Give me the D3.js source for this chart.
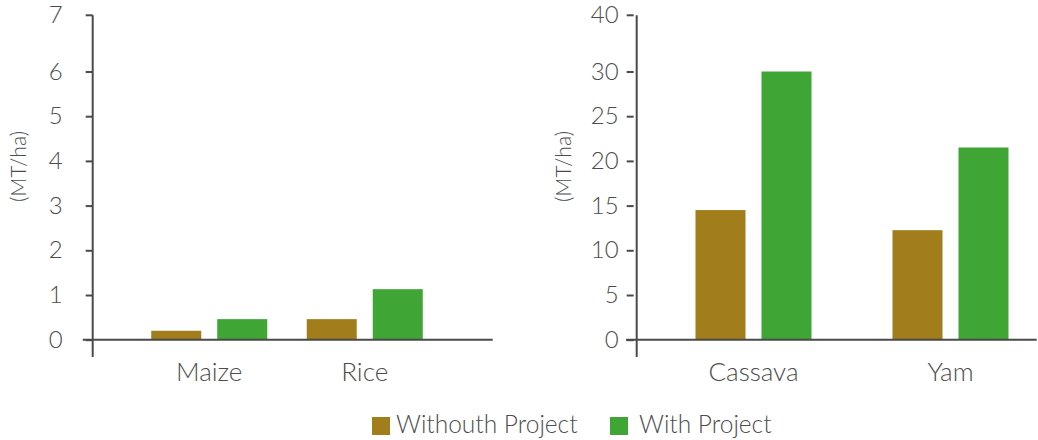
<!DOCTYPE html>
<html>
<head>
<meta charset="utf-8">
<script src="https://cdn.jsdelivr.net/npm/d3@7"></script>
<style>
  body { margin: 0; background: #fff; }
  svg { display: block; }
</style>
</head>
<body>
<div id="chart"></div>
<script>
// data
const series = ["Withouth Project", "With Project"];
const leftCrops = ["Maize", "Rice"];
const leftWithout = [0.2, 0.46];
const leftWith = [0.46, 1.13];
const rightCrops = ["Cassava", "Yam"];
const rightWithout = [14.5, 12.25];
const rightWith = [30, 21.5];
const leftTicks = [0, 1, 2, 3, 4, 5, 6];
const leftCap = "7";
const rightTicks = [0, 5, 10, 15, 20, 25, 30];
const rightCap = "40";
const yTitle = "(MT/ha)";

const width = 1038, height = 440;
const colors = ["#a27d1c", "#3fa535"];
const axisColor = "#4a4a4a";
const textColor = "#4d4d4d";
const fontFamily = "Lato, 'Open Sans', sans-serif";

const svg = d3.select("#chart")
  .append("svg")
  .attr("width", width)
  .attr("height", height)
  .attr("font-family", fontFamily)
  .attr("font-weight", 300);

const color = d3.scaleOrdinal().domain(series).range(colors);

/**
 * one grouped-bar panel with its own y axis
 */
function panel({
  crops, without, withP, ticks, cap, lastTick,
  axisX, xRange, baseStart, baseEnd, shiftTicks, tickGap, titleX,
}) {
  const baseY = 339.7, topTickY = 71.5, capY = 15.3, axisBottom = 357;
  const y = d3.scaleLinear().domain([0, lastTick]).range([baseY, topTickY]);
  const x0 = d3.scaleBand().domain(crops).range(xRange);
  const x1 = d3.scaleBand().domain(series).range([-58, 58]).paddingInner(16 / 66);

  const g = svg.append("g");

  // bars
  const rows = crops.map((c, i) => ({ crop: c, values: [without[i], withP[i]] }));
  g.append("g")
    .selectAll("g")
    .data(rows)
    .join("g")
    .attr("transform", (d) => `translate(${x0(d.crop) + x0.bandwidth() / 2},0)`)
    .selectAll("rect")
    .data((d) => d.values.map((v, j) => ({ key: series[j], value: v })))
    .join("rect")
    .attr("x", (d) => x1(d.key))
    .attr("width", x1.bandwidth())
    .attr("y", (d) => y(d.value))
    .attr("height", (d) => baseY - y(d.value))
    .attr("fill", (d) => color(d.key));

  // y axis ticks + labels
  const ax = g.append("g")
    .attr("transform", `translate(${axisX},0)`)
    .call(d3.axisLeft(y).tickValues(ticks).tickSize(7).tickPadding(tickGap).tickFormat(d3.format("d")));
  ax.select(".domain").remove();
  // cap tick at the top of the axis
  const capTick = ax.append("g").attr("transform", `translate(0,${capY})`);
  capTick.append("line").attr("x2", -7);
  capTick.append("text").attr("x", -7 - tickGap).attr("dy", "0.32em").attr("text-anchor", "end").text(cap);
  ax.selectAll("line").attr("stroke", axisColor).attr("stroke-width", 2)
    .attr("transform", shiftTicks ? "translate(-3,0)" : null);
  ax.selectAll("text").attr("fill", textColor).attr("font-size", 24)
    .attr("font-family", fontFamily).attr("font-weight", 300);

  // axis lines
  g.append("line")
    .attr("x1", axisX).attr("x2", axisX)
    .attr("y1", capY).attr("y2", axisBottom)
    .attr("stroke", axisColor).attr("stroke-width", 2);
  g.append("line")
    .attr("x1", baseStart).attr("x2", baseEnd)
    .attr("y1", baseY).attr("y2", baseY)
    .attr("stroke", axisColor).attr("stroke-width", 2);

  // category labels
  g.append("g")
    .selectAll("text")
    .data(crops)
    .join("text")
    .attr("x", (d) => x0(d) + x0.bandwidth() / 2)
    .attr("y", 381)
    .attr("text-anchor", "middle")
    .attr("font-size", 26)
    .attr("fill", textColor)
    .text((d) => d);

  // y title
  g.append("text")
    .attr("transform", `translate(${titleX},166.5) rotate(-90)`)
    .attr("text-anchor", "middle")
    .attr("font-size", 21)
    .attr("fill", textColor)
    .text(yTitle);
}

panel({
  crops: leftCrops, without: leftWithout, withP: leftWith,
  ticks: leftTicks, cap: leftCap, lastTick: 6,
  axisX: 92.7, xRange: [131.5, 442.5], baseStart: 82.7, baseEnd: 492.7,
  shiftTicks: false, tickGap: 23, titleX: 26,
});

panel({
  crops: rightCrops, without: rightWithout, withP: rightWith,
  ticks: rightTicks, cap: rightCap, lastTick: 30,
  axisX: 636.7, xRange: [655, 1049], baseStart: 626, baseEnd: 1036.7,
  shiftTicks: true, tickGap: 11, titleX: 571,
});

// legend
const legendPos = [372, 610];
const legend = svg.append("g")
  .selectAll("g")
  .data(series)
  .join("g")
  .attr("transform", (d, i) => `translate(${legendPos[i]},417)`);
legend.append("rect")
  .attr("width", 18).attr("height", 18)
  .attr("fill", (d) => color(d));
legend.append("text")
  .attr("x", (d, i) => (i === 0 ? 24 : 29))
  .attr("y", 16)
  .attr("font-size", 24.5)
  .attr("fill", textColor)
  .text((d) => d);
</script>
</body>
</html>
